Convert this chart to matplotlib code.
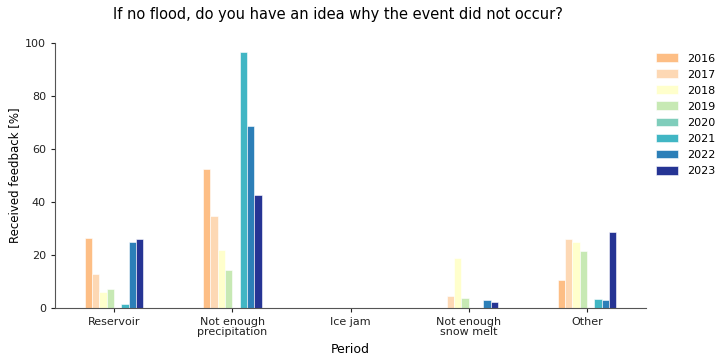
import matplotlib
matplotlib.use("Agg")
import matplotlib.pyplot as plt
import numpy as np

categories = ["Reservoir", "Not enough\nprecipitation", "Ice jam", "Not enough\nsnow melt", "Other"]
years = ["2016", "2017", "2018", "2019", "2020", "2021", "2022", "2023"]
v2016 = [26.2, 52.6, 0, 0, 10.5]
v2017 = [12.8, 34.8, 0, 4.3, 26.1]
v2018 = [6.0, 21.8, 0, 18.7, 25.0]
v2019 = [7.0, 14.1, 0, 3.5, 21.4]
v2020 = [0, 0, 0, 0, 0]
v2021 = [1.5, 96.8, 0, 0, 3.4]
v2022 = [24.9, 68.8, 0, 3.0, 3.1]
v2023 = [26.0, 42.8, 0, 2.3, 28.5]
values = [v2016, v2017, v2018, v2019, v2020, v2021, v2022, v2023]
colors = ["#fdbe85", "#fdd8b4", "#ffffcc", "#c7e9b4", "#7fcdbb", "#41b6c4", "#2c7fb8", "#253494"]

fig = plt.figure(figsize=(7.28, 3.64), dpi=100)
ax = fig.add_axes([55/728, 1-307.7/364, 591/728, 264.4/364])
x = np.arange(len(categories))
w = 0.062
for i, (yr, vals) in enumerate(zip(years, values)):
    ax.bar(x + (i - 3.5) * w, vals, width=w, color=colors[i], label=yr,
           edgecolor="white", linewidth=0.4)
ax.set_xlim(-0.5, 4.5)
ax.set_ylim(0, 100)
ax.set_xticks(x)
ax.set_xticklabels(categories, fontsize=8, linespacing=1.05)
ax.tick_params(axis="y", labelsize=8)
ax.spines["top"].set_visible(False)
ax.spines["right"].set_visible(False)
for s in ["left", "bottom"]:
    ax.spines[s].set_color("#555555")
ax.tick_params(colors="#222222", length=3)
ax.set_ylabel("Received feedback [%]", fontsize=8.5, labelpad=3)
ax.set_xlabel("Period", fontsize=9)
fig.suptitle("If no flood, do you have an idea why the event did not occur?", fontsize=10.5, x=338/728, y=0.98)
ax.legend(loc="upper left", bbox_to_anchor=(1.0, 1.0), frameon=False, fontsize=8,
          handlelength=2.0, handleheight=0.85, labelspacing=0.52)
fig.savefig("out.png", dpi=100)
